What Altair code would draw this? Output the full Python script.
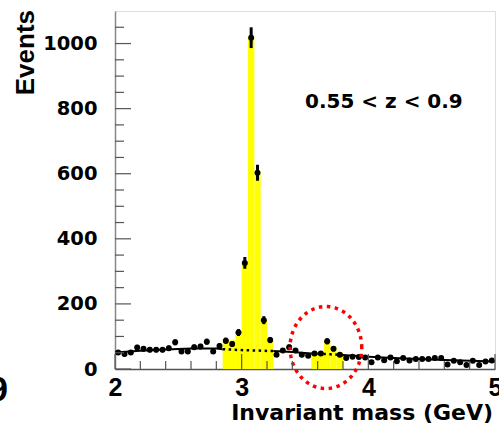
import altair as alt
import pandas as pd
import numpy as np

# ---------------- data ----------------
BIN_LO = 2.0
BIN_W = 0.05
events = [51, 46, 51, 66, 62, 59, 59, 59, 64, 82, 54, 54, 67, 69, 84, 54, 71, 87, 77, 112,
          326, 1018, 603, 150, 89, 44, 57, 67, 57, 44, 41, 48, 48, 85, 62, 44, 34, 38, 37, 35,
          21, 35, 27, 35, 24, 34, 26, 31, 31, 31, 34, 34, 14, 25, 21, 12, 25, 12, 23, 26]

# signal windows (yellow) : bin edges and heights
jpsi_lo, jpsi_hi = 2.85, 3.25
jpsi_h = [88, 88, 114, 326, 1018, 603, 152, 88]
psi2_lo, psi2_hi = 3.55, 3.80
psi2_h = [50, 50, 87, 65, 50]

# background fit curve (knots)
bg_x = [2.0, 2.2, 2.4, 2.6, 2.8, 2.85, 3.0, 3.1, 3.25, 3.4, 3.55, 3.7, 3.8, 4.0, 4.2, 4.4, 4.6, 4.8, 5.0]
bg_y = [51, 56, 60, 63, 63, 61, 58, 57, 55, 52, 48, 45, 43, 38, 34, 31, 28, 25, 23]

# red dotted ellipse annotation (centre and radii in data units)
ell_cx, ell_cy, ell_rx, ell_ry = 3.665, 66, 0.283, 126

label_text = "0.55 < z < 0.9"
x_ticks = [2, 3, 4, 5]
y_ticks = [0, 200, 400, 600, 800, 1000]

# ---------------- tables ----------------
centers = [BIN_LO + BIN_W * (i + 0.5) for i in range(len(events))]
df = pd.DataFrame({"m": centers, "n": events})
df["lo"] = df["n"] - np.sqrt(df["n"])
df["hi"] = df["n"] + np.sqrt(df["n"])

ydf_rows = []
for lo, hs in ((jpsi_lo, jpsi_h), (psi2_lo, psi2_h)):
    for i, h in enumerate(hs):
        ydf_rows.append({"x0": lo + i * BIN_W, "x1": lo + (i + 1) * BIN_W, "h": h, "z": 0})
ydf = pd.DataFrame(ydf_rows)

segs = [(2.0, jpsi_lo, "solid"), (jpsi_lo, jpsi_hi, "dot"), (jpsi_hi, psi2_lo, "solid"),
        (psi2_lo, psi2_hi, "dot"), (psi2_hi, 5.0, "solid")]
rows = []
for k, (a, b, sty) in enumerate(segs):
    for x, y in zip(bg_x, bg_y):
        if a - 1e-9 <= x <= b + 1e-9:
            rows.append({"x": x, "y": y, "seg": k, "sty": sty})
bgdf = pd.DataFrame(rows)

t = np.linspace(0, 2 * np.pi, 121)
edf = pd.DataFrame({"x": ell_cx + ell_rx * np.cos(t), "y": ell_cy + ell_ry * np.sin(t), "i": range(len(t))})

ymaj = pd.DataFrame({"v": y_ticks})
ymin = pd.DataFrame({"v": [v for v in range(50, 1100, 50) if v % 200 != 0]})
xmaj = pd.DataFrame({"v": x_ticks})
xmin = pd.DataFrame({"v": [round(2 + 0.2 * k, 2) for k in range(1, 15) if k % 5 != 0]})

# ---------------- scales / axes ----------------
XS = alt.Scale(domain=[2, 5], nice=False, zero=False)
YS = alt.Scale(domain=[0, 1100], nice=False)
XA = alt.Axis(values=x_ticks, format="d", ticks=False, grid=False, title=None,
              labelFont="Liberation Sans", labelFontWeight="bold", labelFontSize=25,
              labelColor="black", labelPadding=6, labelFlush=False, labelOverlap=False,
              domainColor="#555", domainWidth=1.5)
YA = alt.Axis(values=y_ticks, format="d", ticks=False, grid=False, title=None,
              labelFont="DejaVu Sans", labelFontWeight="bold", labelFontSize=19.5,
              labelColor="black", labelPadding=18, labelOverlap=False,
              domainColor="#888", domainWidth=1.5)

def X(f):
    return alt.X(f, scale=XS, axis=XA)

def Y(f):
    return alt.Y(f, scale=YS, axis=YA)

yellow = alt.Chart(ydf).mark_rect(color="#ffff00").encode(
    x=X("x0:Q"), x2="x1:Q", y=Y("h:Q"), y2="z:Q")

fit_solid = alt.Chart(bgdf[bgdf.sty == "solid"]).mark_line(color="black", strokeWidth=2).encode(
    x=X("x:Q"), y=Y("y:Q"), detail="seg:N")
fit_dot = alt.Chart(bgdf[bgdf.sty == "dot"]).mark_line(
    color="black", strokeWidth=2.5, strokeDash=[2.5, 3.5]).encode(
    x=X("x:Q"), y=Y("y:Q"), detail="seg:N")

errs = alt.Chart(df).mark_rule(color="black", strokeWidth=3).encode(
    x=X("m:Q"), y=Y("lo:Q"), y2="hi:Q")
pts = alt.Chart(df).mark_circle(color="black", size=36, opacity=1).encode(
    x=X("m:Q"), y=Y("n:Q"))

ellipse = alt.Chart(edf).mark_line(color="#ff0000", strokeWidth=3.5, strokeDash=[3.5, 4.5]).encode(
    x=X("x:Q"), y=Y("y:Q"), order="i:Q")

ymaj_t = alt.Chart(ymaj).mark_rule(color="#555", strokeWidth=1.2).encode(
    y=Y("v:Q"), x=alt.value(0), x2=alt.value(16))
ymin_t = alt.Chart(ymin).mark_rule(color="#555", strokeWidth=1.2).encode(
    y=Y("v:Q"), x=alt.value(0), x2=alt.value(9))
xmaj_t = alt.Chart(xmaj).mark_rule(color="#555", strokeWidth=1.2).encode(
    x=X("v:Q"), y=alt.value(358), y2=alt.value(343))
xmin_t = alt.Chart(xmin).mark_rule(color="#555", strokeWidth=1.2).encode(
    x=X("v:Q"), y=alt.value(358), y2=alt.value(350))

one = pd.DataFrame({"a": [0]})
label = alt.Chart(one).mark_text(font="DejaVu Sans", fontWeight="bold", fontSize=20,
                                 align="left", baseline="middle", color="black").encode(
    x=alt.value(190), y=alt.value(91), text=alt.value(label_text))
ytitle = alt.Chart(one).mark_text(font="Liberation Sans", fontWeight="bold", fontSize=26,
                                  align="right", baseline="middle", angle=270, color="black").encode(
    x=alt.value(-89), y=alt.value(-1), text=alt.value("Events"))
xtitle = alt.Chart(one).mark_text(font="DejaVu Sans", fontWeight="bold", fontSize=22,
                                  align="right", baseline="alphabetic", color="black").encode(
    x=alt.value(378), y=alt.value(409), text=alt.value("Invariant mass (GeV)"))
nine = alt.Chart(one).mark_text(font="Liberation Sans", fontWeight="bold", fontSize=35,
                                align="right", baseline="alphabetic", color="black").encode(
    x=alt.value(-107), y=alt.value(390), text=alt.value("9"))

chart = alt.layer(
    yellow, fit_solid, fit_dot, errs, pts, ellipse,
    ymaj_t, ymin_t, xmaj_t, xmin_t, label, ytitle, xtitle, nine
).properties(
    width=380, height=358,
    padding={"left": 115, "top": 11, "right": 4, "bottom": 57},
    autosize=alt.AutoSizeParams(type="none"),
).configure_view(stroke="#888", strokeWidth=1.5).configure(background="white")

chart.save("out.html", embed_options={"renderer": "svg", "actions": False})
